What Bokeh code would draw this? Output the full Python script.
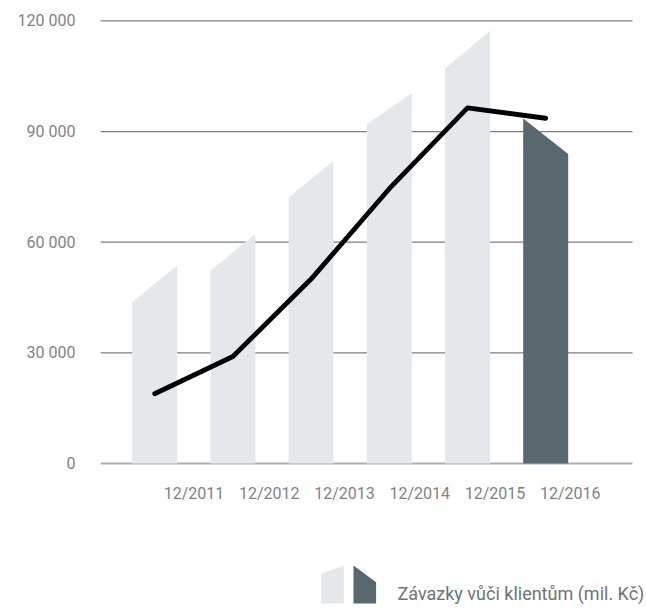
from bokeh.plotting import figure
from bokeh.models import FixedTicker, Range1d, ColumnDataSource
from bokeh.embed import file_html
from bokeh.resources import INLINE
from bokeh.core.properties import value

# ---- data ----
years = ["12/2011", "12/2012", "12/2013", "12/2014", "12/2015", "12/2016"]
bar_left_top = [43800, 52200, 72100, 92000, 107100, 93500]
bar_right_top = [53600, 62300, 82100, 100400, 117300, 83900]
line_values = [18900, 29000, 50000, 74500, 96400, 93600]
bar_colors = ["#e5e8eb", "#e5e8eb", "#e5e8eb", "#e5e8eb", "#e5e8eb", "#59676e"]
y_ticks = [0, 30000, 60000, 90000, 120000]
y_tick_labels = ["0", "30 000", "60 000", "90 000", "120 000"]
legend_label = "Závazky vůči klientům (mil. Kč)"

FONT = "Roboto"
LABEL_COLOR = "#7d8389"

# ---- layout helpers (pixel -> data) ----
W, H = 646, 606
FRAME_LEFT, FRAME_TOP = 100, 13
ZERO_PY = 463
X0 = -0.693
PX_PER_X = 78.2
PX_PER_Y = 450 / 122000


def X(px):
    return X0 + (px - FRAME_LEFT) / PX_PER_X


def Y(py):
    return (ZERO_PY - py) / PX_PER_Y


idx = list(range(len(years)))
hw = 0.2875
src = ColumnDataSource(dict(
    xs=[[i - hw, i - hw, i + hw, i + hw] for i in idx],
    ys=[[0, l, r, 0] for l, r in zip(bar_left_top, bar_right_top)],
    color=bar_colors,
))

p = figure(width=W, height=H, output_backend="svg", toolbar_location=None,
           x_axis_location=None,
           x_range=Range1d(X(FRAME_LEFT), X(W)), y_range=Range1d(Y(H), 122000),
           min_border_left=FRAME_LEFT, min_border_right=0, min_border_top=FRAME_TOP,
           min_border_bottom=0)
p.outline_line_color = None
p.background_fill_color = "white"
p.border_fill_color = "white"
p.grid.visible = False

# grid lines (end at x = 632 px like the reference)
gx0, gx1 = X(FRAME_LEFT), X(632)
p.segment(x0=[gx0] * 4, x1=[gx1] * 4, y0=y_ticks[1:], y1=y_ticks[1:],
          line_color="#75808a", line_width=1.3, level="underlay")
p.segment(x0=[gx0], x1=[gx1], y0=[0], y1=[0], line_color="#a9aeb2", line_width=2)

p.patches("xs", "ys", source=src, fill_color="color", line_color=None)
p.line(idx, line_values, line_width=4.8, line_color="black",
       line_cap="round", line_join="round")

# y axis
p.yaxis.ticker = FixedTicker(ticks=y_ticks)
p.yaxis.major_label_overrides = {t: s for t, s in zip(y_ticks, y_tick_labels)}
p.yaxis.axis_line_color = None
p.yaxis.major_tick_line_color = None
p.yaxis.minor_tick_line_color = None
p.yaxis.major_tick_out = 0
p.yaxis.major_tick_in = 0
p.yaxis.major_label_standoff = 25
p.yaxis.major_label_text_font = FONT
p.yaxis.major_label_text_font_size = "16px"
p.yaxis.major_label_text_color = LABEL_COLOR

# x category labels (offset to the right of each bar, as in the reference)
x_label_pos = [i + 0.503 - 0.038 * i for i in idx]
p.text(x=x_label_pos, y=[Y(493)] * len(years), text=years,
       text_font=value(FONT), text_font_size="16px", text_color=LABEL_COLOR,
       text_align="center", text_baseline="middle")

# ---- legend ----
def swatch(px0, top_left, top_right, color):
    p.patch([X(px0), X(px0), X(px0 + 22.6), X(px0 + 22.6)],
            [Y(603), Y(top_left), Y(top_right), Y(603)],
            fill_color=color, line_color=None)


swatch(320.7, 573, 565, bar_colors[0])
swatch(353.0, 565, 581.7, bar_colors[-1])
p.text(x=[X(397)], y=[Y(593)], text=[legend_label], text_font=value(FONT),
       text_font_size="18px", text_color="#6d7378",
       text_align="left", text_baseline="middle")

open("out.html", "w").write(file_html(p, INLINE))
